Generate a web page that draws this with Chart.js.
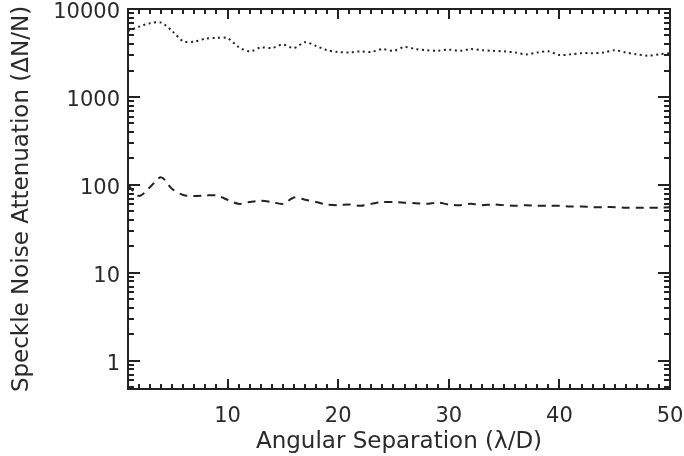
<!DOCTYPE html>
<html>
<head>
<meta charset="utf-8">
<script src="https://cdn.jsdelivr.net/npm/chart.js@4/dist/chart.umd.min.js"></script>
<style>
  html, body { margin: 0; padding: 0; background: #fff; }
  #wrap { width: 684px; height: 456px; }
</style>
</head>
<body>
<div id="wrap"><canvas id="speckleChart" width="684" height="456"></canvas></div>
<script>
// Angular separation in lambda/D
const separation = [];
for (let i = 1; i <= 50; i++) separation.push(i);

// Dotted curve (upper)
const dottedValues = [
  5600, 6300, 6900, 7000, 5600, 4300, 4250, 4600, 4700, 4650,
  3700, 3300, 3650, 3600, 3950, 3600, 4200, 3800, 3400, 3250,
  3200, 3300, 3250, 3500, 3350, 3700, 3500, 3400, 3350, 3450,
  3350, 3500, 3400, 3350, 3300, 3200, 3050, 3200, 3300, 3000,
  3050, 3150, 3150, 3200, 3400, 3200, 3050, 2950, 3050, 3150
];

// Dashed curve (lower)
const dashedValues = [
  100, 75, 95, 122, 90, 77, 75, 76, 76, 68,
  61, 64, 66, 64, 61, 72, 68, 64, 60, 59,
  60, 58, 61, 64, 64, 63, 62, 61, 63, 60,
  59, 61, 59, 60, 59, 58, 59, 58, 58, 58,
  57, 57, 56, 56, 56, 55, 55, 55, 55, 56
];

const xTickLabels = [10, 20, 30, 40, 50];
const yTickLabels = [1, 10, 100, 1000, 10000];

const ink = "#222";
const textInk = "#2a2a2a";
const fontFamily = "'DejaVu Sans', sans-serif";

// IDL style frame with inward ticks on all four sides
const frameTicks = {
  id: "frameTicks",
  afterDatasetsDraw(chart) {
    const { ctx, chartArea: a, scales: { x, y } } = chart;
    ctx.save();
    ctx.strokeStyle = ink;
    ctx.lineWidth = 2;
    ctx.strokeRect(a.left, a.top, a.right - a.left, a.bottom - a.top);

    const seg = (x1, y1, x2, y2) => {
      ctx.beginPath();
      ctx.moveTo(x1, y1);
      ctx.lineTo(x2, y2);
      ctx.stroke();
    };

    for (let v = x.min; v <= x.max; v++) {
      const px = Math.round(x.getPixelForValue(v));
      const len = v % 10 === 0 ? 10 : 5;
      seg(px, a.bottom, px, a.bottom - len);
      seg(px, a.top, px, a.top + len);
    }

    for (let d = 0.1; d <= 10000; d *= 10) {
      for (let m = 1; m <= 9; m++) {
        const v = m * d;
        if (v < y.min - 1e-9 || v > y.max * 1.0001) continue;
        const py = Math.round(y.getPixelForValue(v));
        const len = m === 1 ? 12 : 6;
        seg(a.left, py, a.left + len, py);
        seg(a.right, py, a.right - len, py);
      }
    }
    ctx.restore();
  }
};

// keep the plot box fixed, ignore label overhang padding
function noPad(s) {
  s.paddingTop = 0;
  s.paddingBottom = 0;
  s.paddingLeft = 0;
  s.paddingRight = 0;
}

new Chart(document.getElementById("speckleChart"), {
  type: "line",
  data: {
    labels: separation,
    datasets: [
      {
        data: dottedValues,
        borderColor: ink,
        borderWidth: 2,
        borderDash: [2, 3.5],
        pointRadius: 0,
        tension: 0.3
      },
      {
        data: dashedValues,
        borderColor: ink,
        borderWidth: 2,
        borderDash: [8, 6],
        pointRadius: 0,
        tension: 0.3
      }
    ]
  },
  options: {
    responsive: false,
    animation: false,
    layout: { padding: { top: 9, right: 14, left: 0, bottom: 0 } },
    plugins: {
      legend: { display: false },
      tooltip: { enabled: false }
    },
    scales: {
      x: {
        type: "linear",
        min: 1,
        max: 50,
        grid: { display: false, drawTicks: false },
        border: { display: false },
        afterBuildTicks: s => { s.ticks = xTickLabels.map(v => ({ value: v })); },
        afterFit: s => { s.height = 67; noPad(s); },
        ticks: {
          color: textInk,
          padding: 15,
          maxRotation: 0,
          font: { family: fontFamily, size: 21 }
        },
        title: {
          display: true,
          text: "Angular Separation (λ/D)",
          color: textInk,
          padding: { top: 0, bottom: 0 },
          font: { family: fontFamily, size: 23 }
        }
      },
      y: {
        type: "logarithmic",
        min: 0.48,
        max: 10000,
        grid: { display: false, drawTicks: false },
        border: { display: false },
        afterBuildTicks: s => { s.ticks = yTickLabels.map(v => ({ value: v })); },
        afterFit: s => { s.width = 128; noPad(s); },
        ticks: {
          color: textInk,
          padding: 8,
          labelOffset: 4,
          font: { family: fontFamily, size: 21 },
          callback: v => String(v)
        },
        title: {
          display: true,
          text: "Speckle Noise Attenuation (ΔN/N)",
          color: textInk,
          padding: { top: 8, bottom: 0 },
          font: { family: fontFamily, size: 23 }
        }
      }
    }
  },
  plugins: [frameTicks]
});
</script>
</body>
</html>
